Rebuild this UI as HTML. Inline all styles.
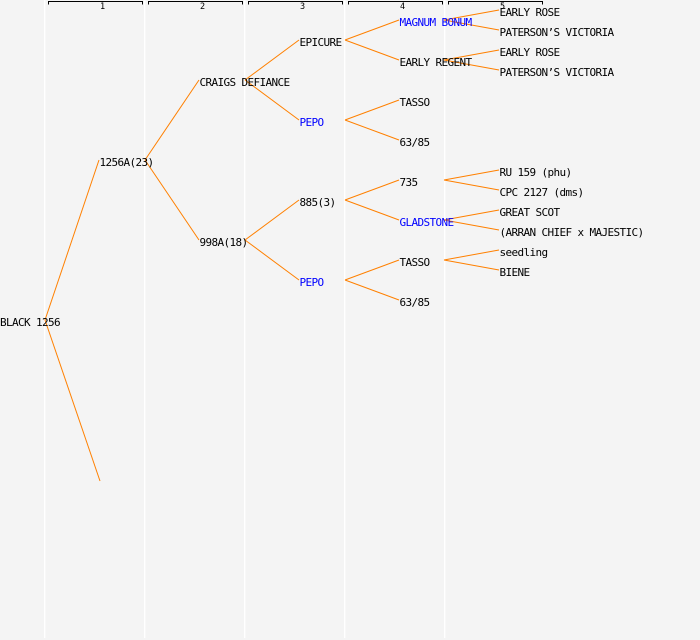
<!DOCTYPE html>
<html>
<head>
<meta charset="utf-8">
<style>
html,body{margin:0;padding:0;background:#f4f4f4;}
svg{display:block;}
text{font-family:"DejaVu Sans Mono","Liberation Mono",monospace;font-size:11px;letter-spacing:-0.62px;fill:#000;}
text.b{fill:#0000ff;}
text.h{font-family:"DejaVu Sans Mono","Liberation Mono",monospace;font-size:8.5px;letter-spacing:0;text-anchor:middle;}
</style>
</head>
<body>
<svg width="700" height="640" viewBox="0 0 700 640" xmlns="http://www.w3.org/2000/svg">
<rect x="0" y="0" width="700" height="640" fill="#f4f4f4"/>
<!-- column separators -->
<g fill="#ffffff">
<rect x="44" y="0" width="1.3" height="638"/>
<rect x="144" y="0" width="1.3" height="638"/>
<rect x="244" y="0" width="1.3" height="638"/>
<rect x="344" y="0" width="1.3" height="638"/>
<rect x="444" y="0" width="1.3" height="638"/>
</g>
<!-- header brackets -->
<g stroke="#000" stroke-width="1" fill="none" shape-rendering="crispEdges">
<path d="M48.5,4.5 V1.5 H142.5 V4.5"/>
<path d="M148.5,4.5 V1.5 H242.5 V4.5"/>
<path d="M248.5,4.5 V1.5 H342.5 V4.5"/>
<path d="M348.5,4.5 V1.5 H442.5 V4.5"/>
<path d="M448.5,4.5 V1.5 H542.5 V4.5"/>
</g>
<text class="h" x="102.5" y="9">1</text>
<text class="h" x="202.5" y="9">2</text>
<text class="h" x="302.5" y="9">3</text>
<text class="h" x="402.5" y="9">4</text>
<text class="h" x="502.5" y="9">5</text>
<!-- connectors -->
<g stroke="#ff8000" stroke-width="1" fill="none">
<line x1="45" y1="320" x2="99" y2="160"/>
<line x1="45" y1="320" x2="100" y2="481"/>
<line x1="145" y1="160" x2="199" y2="80"/>
<line x1="145" y1="160" x2="199" y2="240"/>
<line x1="245" y1="80" x2="299" y2="40"/>
<line x1="245" y1="80" x2="299" y2="120"/>
<line x1="245" y1="240" x2="299" y2="200"/>
<line x1="245" y1="240" x2="299" y2="280"/>
<line x1="345" y1="40" x2="399" y2="20"/>
<line x1="345" y1="40" x2="399" y2="60"/>
<line x1="345" y1="120" x2="399" y2="100"/>
<line x1="345" y1="120" x2="399" y2="140"/>
<line x1="345" y1="200" x2="399" y2="180"/>
<line x1="345" y1="200" x2="399" y2="220"/>
<line x1="345" y1="280" x2="399" y2="260"/>
<line x1="345" y1="280" x2="399" y2="300"/>
<line x1="444" y1="20" x2="499" y2="10"/>
<line x1="444" y1="20" x2="499" y2="30"/>
<line x1="444" y1="60" x2="499" y2="50"/>
<line x1="444" y1="60" x2="499" y2="70"/>
<line x1="444" y1="180" x2="499" y2="170"/>
<line x1="444" y1="180" x2="499" y2="190"/>
<line x1="444" y1="220" x2="499" y2="210"/>
<line x1="444" y1="220" x2="499" y2="230"/>
<line x1="444" y1="260" x2="499" y2="250"/>
<line x1="444" y1="260" x2="499" y2="270"/>
</g>
<!-- labels -->
<text x="0" y="326">BLACK 1256</text>
<text x="99.5" y="166">1256A(23)</text>
<text x="199.5" y="86">CRAIGS DEFIANCE</text>
<text x="199.5" y="246">998A(18)</text>
<text x="299.5" y="46">EPICURE</text>
<text class="b" x="299.5" y="126">PEPO</text>
<text x="299.5" y="206">885(3)</text>
<text class="b" x="299.5" y="286">PEPO</text>
<text class="b" x="399.5" y="26">MAGNUM BONUM</text>
<text x="399.5" y="66">EARLY REGENT</text>
<text x="399.5" y="106">TASSO</text>
<text x="399.5" y="146">63/85</text>
<text x="399.5" y="186">735</text>
<text class="b" x="399.5" y="226">GLADSTONE</text>
<text x="399.5" y="266">TASSO</text>
<text x="399.5" y="306">63/85</text>
<text x="499.5" y="16">EARLY ROSE</text>
<text x="499.5" y="36">PATERSON’S VICTORIA</text>
<text x="499.5" y="56">EARLY ROSE</text>
<text x="499.5" y="76">PATERSON’S VICTORIA</text>
<text x="499.5" y="176">RU 159 (phu)</text>
<text x="499.5" y="196">CPC 2127 (dms)</text>
<text x="499.5" y="216">GREAT SCOT</text>
<text x="499.5" y="236">(ARRAN CHIEF x MAJESTIC)</text>
<text x="499.5" y="256">seedling</text>
<text x="499.5" y="276">BIENE</text>
</svg>
</body>
</html>
